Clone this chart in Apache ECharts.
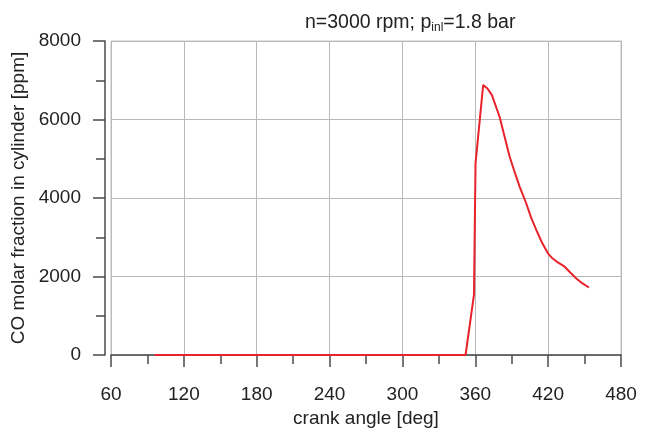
<!DOCTYPE html>
<html>
<head>
<meta charset="utf-8">
<script src="https://cdn.jsdelivr.net/npm/echarts@6/dist/echarts.min.js"></script>
<style>html,body{margin:0;padding:0;background:#fff}#c{width:649px;height:428px}</style>
</head>
<body>
<div id="c"></div>
<script>
// crank angle [deg]
const crankAngle = [96, 200, 300, 352, 358.9, 360.2, 366.5, 370, 373.7, 380, 384, 388.3, 392, 396.5, 402, 406, 410.2, 415, 419.8, 423, 427, 433.6, 438, 443.2, 448, 453.6];
// CO molar fraction [ppm]
const coPpm = [0, 0, 0, 0, 1530, 4880, 6880, 6790, 6620, 6070, 5580, 5050, 4700, 4290, 3860, 3500, 3190, 2860, 2590, 2480, 2380, 2250, 2110, 1950, 1830, 1720];
const xTicks = [60, 120, 180, 240, 300, 360, 420, 480];
const yTicks = [0, 2000, 4000, 6000, 8000];

const chart = echarts.init(document.getElementById('c'), null, {renderer: 'canvas'});
const font = 'Liberation Sans, Arial, sans-serif';
const axisCol = '#4a4a4a';
chart.setOption({
  animation: false,
  backgroundColor: '#fff',
  title: {
    text: '{a|n=3000 rpm; p}{s|inl}{a|=1.8 bar}',
    left: 300, top: 7,
    textStyle: {
      fontWeight: 'normal',
      rich: {
        a: {fontFamily: font, fontSize: 19.5, fontWeight: 'normal', color: '#222'},
        s: {fontFamily: font, fontSize: 12, fontWeight: 'normal', color: '#222', verticalAlign: 'bottom', padding: [10, 0, 0, 0]}
      }
    }
  },
  grid: {left: 111, top: 41, width: 510, height: 314, show: true, borderColor: '#c4c4c4', borderWidth: 1, containLabel: false, outerBoundsMode: 'none'},
  xAxis: {
    type: 'value', min: xTicks[0], max: xTicks[xTicks.length - 1], interval: 60,
    offset: 6,
    name: 'crank angle [deg]', nameLocation: 'middle', nameGap: 44,
    nameTextStyle: {fontFamily: font, fontSize: 19, color: '#222'},
    axisLine: {show: true, lineStyle: {color: axisCol, width: 1.5}},
    axisTick: {show: true, length: 12, lineStyle: {color: axisCol, width: 1.5}},
    minorTick: {show: true, splitNumber: 2, length: 9, lineStyle: {color: axisCol, width: 1.5}},
    axisLabel: {fontFamily: font, fontSize: 19, color: '#222', margin: 24},
    splitLine: {show: true, lineStyle: {color: '#b8b8b8', width: 1}}
  },
  yAxis: {
    type: 'value', min: yTicks[0], max: yTicks[yTicks.length - 1], interval: 2000,
    offset: 6,
    name: 'CO molar fraction in cylinder [ppm]', nameLocation: 'middle', nameGap: 60,
    nameTextStyle: {fontFamily: font, fontSize: 19, color: '#222'},
    axisLine: {show: true, lineStyle: {color: axisCol, width: 1.5}},
    axisTick: {show: true, length: 12, lineStyle: {color: axisCol, width: 1.5}},
    minorTick: {show: true, splitNumber: 2, length: 9, lineStyle: {color: axisCol, width: 1.5}},
    axisLabel: {fontFamily: font, fontSize: 19, color: '#222', margin: 24, formatter: v => String(v)},
    splitLine: {show: true, lineStyle: {color: '#b8b8b8', width: 1}}
  },
  series: [{
    type: 'line',
    data: crankAngle.map((a, i) => [a, coPpm[i]]),
    showSymbol: false,
    lineStyle: {color: '#e8232b', width: 2},
    smooth: false
  }]
});
</script>
</body>
</html>
